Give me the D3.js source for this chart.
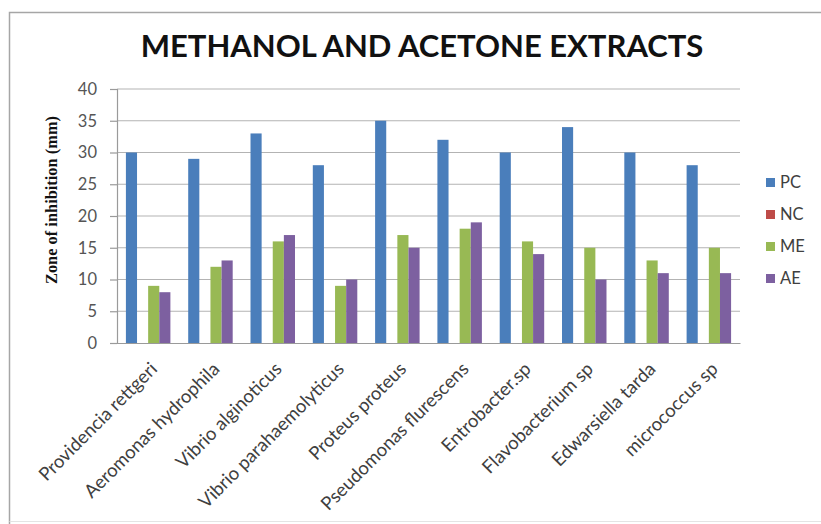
<!DOCTYPE html>
<html>
<head>
<meta charset="utf-8">
<script src="https://cdn.jsdelivr.net/npm/d3@7/dist/d3.min.js"></script>
<style>
  html, body { margin: 0; padding: 0; background: #ffffff; }
  svg { display: block; }
</style>
</head>
<body>
<svg id="chart" width="821" height="524"></svg>
<script>
// Organisms tested
const categories = [
  "Providencia rettgeri", "Aeromonas hydrophila", "Vibrio alginoticus",
  "Vibrio parahaemolyticus", "Proteus proteus", "Pseudomonas flurescens",
  "Entrobacter.sp", "Flavobacterium sp", "Edwarsiella tarda", "micrococcus sp"
];
// Zone of inhibition (mm) per treatment
const seriesNames = ["PC", "NC", "ME", "AE"];
const pcValues = [30, 29, 33, 28, 35, 32, 30, 34, 30, 28];
const ncValues = [0, 0, 0, 0, 0, 0, 0, 0, 0, 0];
const meValues = [9, 12, 16, 9, 17, 18, 16, 15, 13, 15];
const aeValues = [8, 13, 17, 10, 15, 19, 14, 10, 11, 11];
const yTicks = [0, 5, 10, 15, 20, 25, 30, 35, 40];
const seriesColors = ["#4a7ebb", "#be4b48", "#98b954", "#7d60a0"];

const seriesValues = [pcValues, ncValues, meValues, aeValues];
const rows = categories.map((c, i) => ({
  category: c,
  values: seriesNames.map((s, k) => ({ key: s, value: seriesValues[k][i] }))
}));

const svg = d3.select("#chart");

// Chart frame
svg.append("path")
  .attr("d", "M9.5,524 L9.5,12.5 L821,12.5")
  .attr("fill", "none").attr("stroke", "#a6a6a6").attr("stroke-width", 1.5);
svg.append("line")
  .attr("x1", 9.5).attr("x2", 821).attr("y1", 521.5).attr("y2", 521.5)
  .attr("stroke", "#e4e4e4").attr("stroke-width", 1);

const plot = { left: 117, right: 740, top: 89, bottom: 343 };

const x0 = d3.scaleBand().domain(categories).range([plot.left, plot.right]).padding(0);
const groupPad = x0.bandwidth() * 0.143;
const x1 = d3.scaleBand().domain(seriesNames)
  .range([groupPad, x0.bandwidth() - groupPad]).padding(0);
const y = d3.scaleLinear().domain([0, 40]).range([plot.bottom, plot.top]);

// Horizontal gridlines
svg.append("g")
  .selectAll("line").data(yTicks.filter(t => t > 0)).join("line")
  .attr("x1", plot.left).attr("x2", plot.right)
  .attr("y1", d => y(d)).attr("y2", d => y(d))
  .attr("stroke", "#b3b3b3").attr("stroke-width", 1.2);

// Bars
svg.append("g")
  .selectAll("g").data(rows).join("g")
  .attr("transform", d => `translate(${x0(d.category)},0)`)
  .selectAll("rect").data(d => d.values).join("rect")
  .attr("x", d => x1(d.key))
  .attr("width", x1.bandwidth())
  .attr("y", d => y(d.value))
  .attr("height", d => y(0) - y(d.value))
  .attr("fill", (d, i) => seriesColors[i]);

// Y axis
const yAxis = svg.append("g")
  .attr("transform", `translate(${plot.left},0)`)
  .call(d3.axisLeft(y).tickValues(yTicks).tickSize(7).tickPadding(13));
yAxis.select(".domain").attr("stroke", "#9a9a9a").attr("stroke-width", 1.2);
yAxis.selectAll(".tick line").attr("stroke", "#9a9a9a").attr("stroke-width", 1.2);
yAxis.selectAll(".tick text")
  .attr("fill", "#555555")
  .style("font-family", "Lato, 'Open Sans', sans-serif")
  .style("font-size", "16.5px");

// X axis baseline and rotated category labels
const xAxis = svg.append("g")
  .attr("transform", `translate(0,${plot.bottom})`)
  .call(d3.axisBottom(x0).tickSize(0).tickPadding(0));
xAxis.select(".domain").attr("stroke", "#9a9a9a").attr("stroke-width", 1.2);
xAxis.selectAll(".tick text")
  .attr("text-anchor", "end")
  .attr("dominant-baseline", "hanging")
  .attr("transform", "translate(0,17) rotate(-45)")
  .attr("y", 0).attr("dy", 0)
  .attr("fill", "#404040")
  .style("font-family", "Lato, 'Open Sans', sans-serif")
  .style("font-size", "18.5px");

// Title
svg.append("text")
  .attr("x", 422).attr("y", 57)
  .attr("text-anchor", "middle")
  .attr("fill", "#111111")
  .style("font-family", "Lato, 'Open Sans', sans-serif")
  .style("font-weight", "bold")
  .style("font-size", "31px")
  .text("METHANOL AND ACETONE EXTRACTS");

// Y axis title
svg.append("text")
  .attr("transform", "translate(57,200) rotate(-90)")
  .attr("text-anchor", "middle")
  .attr("fill", "#111111")
  .style("font-family", "'Liberation Serif', 'Times New Roman', serif")
  .style("font-weight", "bold")
  .style("font-size", "16.4px")
  .text("Zone of inhibition (mm)");

// Legend
const legend = svg.append("g").attr("transform", "translate(766,182)");
const item = legend.selectAll("g").data(seriesNames).join("g")
  .attr("transform", (d, i) => `translate(0,${i * 32})`);
item.append("rect")
  .attr("x", 0).attr("y", -4).attr("width", 9).attr("height", 9)
  .attr("fill", (d, i) => seriesColors[i]);
item.append("text")
  .attr("x", 14).attr("y", 0).attr("dy", "0.35em")
  .attr("fill", "#404040")
  .style("font-family", "Lato, 'Open Sans', sans-serif")
  .style("font-size", "16.5px")
  .text(d => d);
</script>
</body>
</html>
